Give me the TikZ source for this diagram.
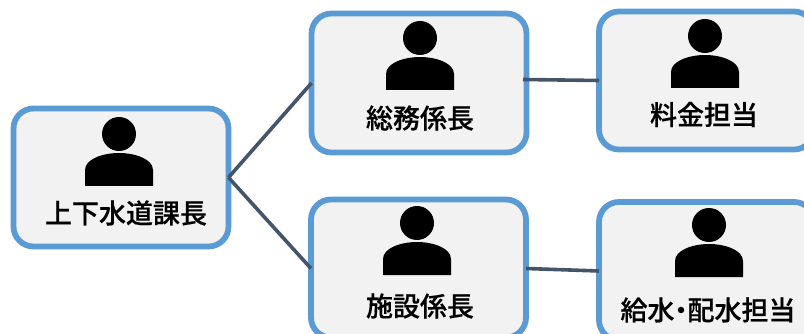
\documentclass[tikz,border=0pt]{standalone}
\usepackage{fontspec}
\setmainfont{Noto Sans CJK JP Medium}[FakeBold=0.4]
\definecolor{boxblue}{HTML}{5B9BD5}
\definecolor{boxfill}{HTML}{F2F2F2}
\definecolor{linkc}{HTML}{44546A}
\tikzset{
  x=1pt,y=-1pt,
  card/.style={draw=boxblue,fill=boxfill,line width=5.8pt,rounded corners=20pt,inner sep=0pt,outer sep=0pt,anchor=north west,minimum width=215pt,minimum height=138pt},
  link/.style={draw=linkc,line width=3.6pt},
  lbl/.style={font=\fontsize{27}{27}\selectfont,text=black,inner sep=0pt},
  person/.pic={
    \fill[black] (0,0) circle[radius=17];
    \fill[black] (-34,52) -- (-34,36) .. controls (-34,25) and (-16,19) .. (0,19) .. controls (16,19) and (34,25) .. (34,36) -- (34,52) -- cycle;
  }
}
\begin{document}
\begin{tikzpicture}
\useasboundingbox (0,0) rectangle (804,334);
\clip (0,0) rectangle (804,334);
\node[card] (a) at (13.5,108.5) {};
\node[card,minimum height=139pt] (b) at (311.5,13.5) {};
\node[card] (c) at (599,11.5) {};
\node[card] (d) at (311,199.5) {};
\node[card] (e) at (599,202) {};
\pic at (119,134) {person};
\pic at (420,38) {person};
\pic at (705,36) {person};
\pic at (417,223) {person};
\pic at (709,225) {person};
\node[lbl] (ta) at (126,213) {上下水道課長};
\node[lbl] (tb) at (420,118) {総務係長};
\node[lbl] (tc) at (704,114.5) {料金担当};
\node[lbl] (td) at (420,306) {施設係長};
\node[lbl] (te) at (708,310) {給水\kern-7pt・\kern-7pt 配水担当};
\draw[link] (a.east) -- (b.west);
\draw[link] (a.east) -- (d.west);
\draw[link] ([xshift=-3.5pt,yshift=3.5pt]b.east) -- (c.west);
\draw[link] (d.east) -- (e.west);
\end{tikzpicture}
\end{document}
